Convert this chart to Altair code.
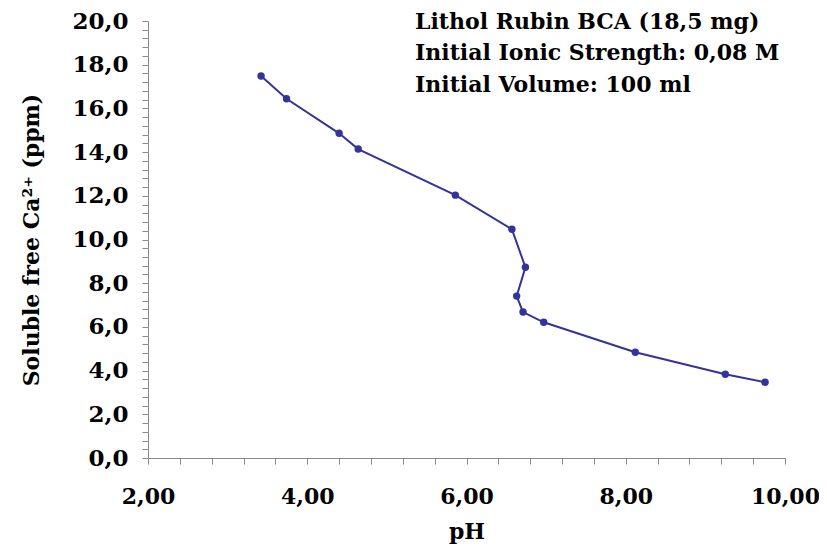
import altair as alt
import pandas as pd

ph = [3.42, 3.74, 4.40, 4.64, 5.86, 6.57, 6.74, 6.63, 6.71, 6.97, 8.12, 9.25, 9.75]
ca = [17.48, 16.44, 14.86, 14.14, 12.03, 10.47, 8.73, 7.41, 6.68, 6.21, 4.84, 3.83, 3.47]
notes = ["Lithol Rubin BCA (18,5 mg)", "Initial Ionic Strength: 0,08 M", "Initial Volume: 100 ml"]

df = pd.DataFrame({"order": list(range(len(ph))), "pH": ph, "Ca": ca})

FONT = "DejaVu Serif"
COLOR = "#333399"
AXC = "#8a8a8a"

xvals = [round(2 + 0.4 * i, 1) for i in range(21)]
yvals = [round(0.4 * i, 1) for i in range(51)]

x = alt.X("pH:Q", scale=alt.Scale(domain=[2, 10], nice=False, zero=False),
          axis=alt.Axis(values=xvals, title="pH", grid=False,
                        labelExpr="round(datum.value*10)%20==0 ? replace(format(datum.value,'.2f'),'.',',') : ''",
                        labelFont=FONT, labelFontSize=22, labelFontWeight="bold", labelColor="black",
                        labelPadding=22, tickSize=6, tickColor=AXC, domainColor=AXC,
                        titleFont=FONT, titleFontSize=22, titleFontWeight="bold", titleColor="black",
                        titlePadding=14, labelOverlap=False, labelFlush=False))
y = alt.Y("Ca:Q", scale=alt.Scale(domain=[0, 20], nice=False),
          axis=alt.Axis(values=yvals, title="Soluble free Ca²⁺ (ppm)", grid=False,
                        labelExpr="round(datum.value*10)%20==0 ? replace(format(datum.value,'.1f'),'.',',') : ''",
                        labelFont=FONT, labelFontSize=23, labelFontWeight="bold", labelColor="black",
                        labelPadding=14, tickSize=6, tickColor=AXC, domainColor=AXC,
                        titleFont=FONT, titleFontSize=22, titleFontWeight="bold", titleColor="black",
                        titlePadding=28, labelOverlap=False, labelFlush=False))

line = alt.Chart(df).mark_line(color=COLOR, strokeWidth=2).encode(x=x, y=y, order="order:Q")
pts = alt.Chart(df).mark_point(filled=True, color=COLOR, size=55, opacity=1).encode(x=x, y=y)

note_layers = []
for txt_line, ypos in zip(notes, [1, 32, 64]):
    note_layers.append(
        alt.Chart(pd.DataFrame({"text": [txt_line]})).mark_text(
            align="left", baseline="middle", font=FONT, fontSize=22,
            fontWeight="bold", color="black").encode(
            x=alt.value(267), y=alt.value(ypos), text="text:N"))

chart = alt.layer(line, pts, *note_layers).properties(
    width=637, height=437,
    autosize=alt.AutoSizeParams(type="none"),
    padding={"left": 140, "top": 13, "right": 34, "bottom": 88},
    background="white"
).configure_view(stroke=None)

chart.save("out.html", embed_options={"renderer": "svg", "actions": False})
